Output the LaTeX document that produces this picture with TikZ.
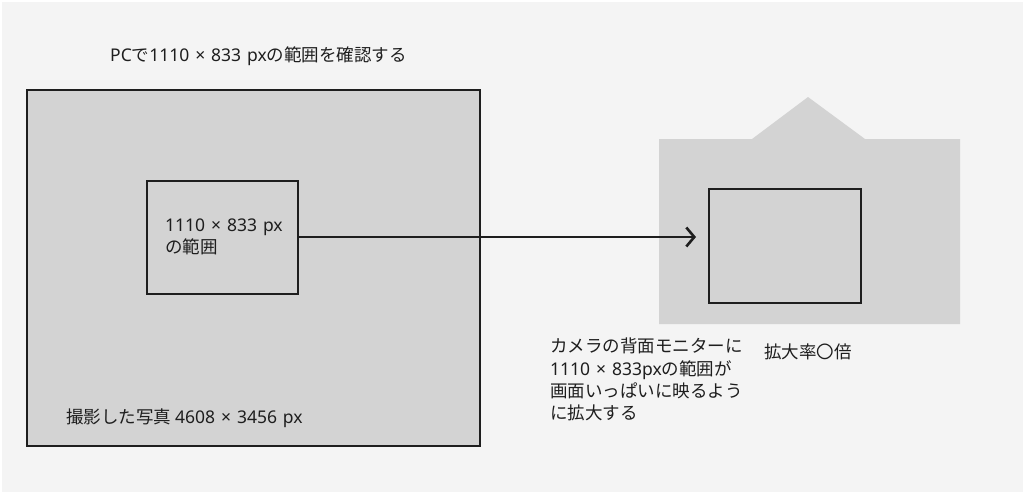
\documentclass[tikz,border=0pt]{standalone}
\usepackage{fontspec}
\setmainfont{Noto Sans CJK JP}
\newfontfamily\latinf[WordSpace=1.3]{Noto Sans}
\newcommand{\lt}[1]{{\latinf #1}}
\usetikzlibrary{arrows.meta}
\definecolor{bgc}{HTML}{F4F4F4}
\definecolor{boxc}{HTML}{D3D3D3}
\definecolor{inkc}{HTML}{1E1E1E}
\tikzset{
  framebox/.style={draw=inkc, line width=1.3pt, fill=boxc},
  lbl/.style={text=inkc, font=\fontsize{17.5}{22.3}\selectfont, inner sep=0pt},
  conn/.style={draw=inkc, line width=2.6pt, -{Straight Barb[length=8pt,width=19pt,line width=2.6pt]}},
}
\begin{document}
\begin{tikzpicture}[x=1pt,y=-1pt]
\fill[white] (0,0) rectangle (1024,493);
\fill[bgc] (1.5,1.5) rectangle (1022.5,491.5);
\useasboundingbox (0,0) rectangle (1024,493);
% big photo
\path[framebox] (27,90) rectangle (480,446);
\node[lbl, anchor=west] (photo) at (66,418) {撮影した写真 \lt{4608 × 3456 px}};
\node[lbl, anchor=west] (title) at (110,56) {\lt{PC}で\lt{1110 × 833 px}の範囲を確認する};
% crop box
\node[framebox, minimum width=151pt, minimum height=113pt, inner sep=0pt] (crop) at (222.5,237.5) {};
\node[lbl, anchor=west, align=left] (croplbl) at (165,237) {\lt{1110 × 833 px}\\の範囲};
% camera
\fill[boxc] (659,139) -- (752,139) -- (808,97) -- (865,139) -- (960,139) -- (960,324) -- (659,324) -- cycle;
\node[draw=inkc, line width=1.3pt, fill=boxc, minimum width=152pt, minimum height=114pt, inner sep=0pt] (monitor) at (785,246) {};
\coordinate (tip) at (696,237);
\draw[conn] (crop.east |- 0,237) -- (tip);
\node[lbl, anchor=north west, align=left] (cap) at (550,338) {カメラの背面モニターに\\\lt{1110 × 833px}の範囲が\\画面いっぱいに映るよう\\に拡大する};
\node[lbl, anchor=west] (zoom) at (764,352) {拡大率〇倍};
\end{tikzpicture}
\end{document}
